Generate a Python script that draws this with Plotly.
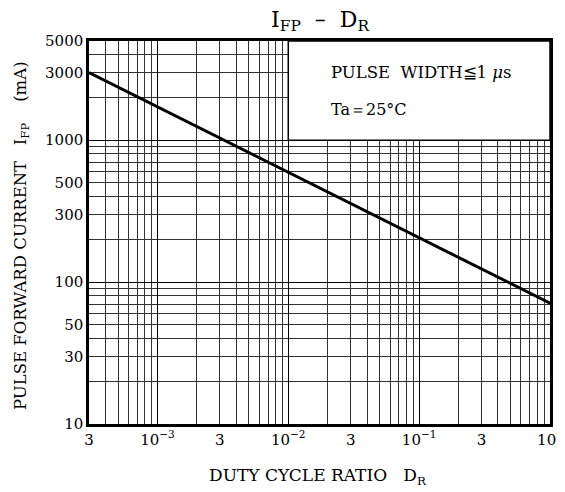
import plotly.graph_objects as go
import numpy as np

# Data
duty_ratio = [3e-4, 1.0]
ifp_ma = [3000, 71]

x_tickvals = [3e-4, 1e-3, 3e-3, 1e-2, 3e-2, 1e-1, 3e-1, 1.0]
x_ticktext = ["3", "10<sup>−3</sup>", "3", "10<sup>−2</sup>", "3", "10<sup>−1</sup>", "3", "10<sup>0</sup>"]
y_tickvals = [10, 30, 50, 100, 300, 500, 1000, 3000, 5000]
y_ticktext = ["10", "30", "50", "100", "300", "500", "1000", "3000", "5000"]

x_minor = [m * 10.0 ** e for e in range(-4, 1) for m in range(1, 10) if 3e-4 <= m * 10.0 ** e <= 1.0]
y_minor = [m * 10.0 ** e for e in range(1, 4) for m in range(1, 10) if 10 <= m * 10.0 ** e <= 5000]
x_decades = [1e-3, 1e-2, 1e-1]
y_decades = [100, 1000]

FONT = "DejaVu Serif"

# the page body adds an 8px margin; size the figure so the plot lands where the reference has it
OFF = 8
W, H = 565, 492
L, R, T, B = 81, 23, 33, 76

fig = go.Figure()
fig.add_trace(go.Scatter(x=duty_ratio, y=ifp_ma, mode="lines",
                         line=dict(color="black", width=3), showlegend=False,
                         hoverinfo="skip"))
# invisible trace for the overlay axes holding decade grid lines
fig.add_trace(go.Scatter(x=[3e-4], y=[10], xaxis="x2", yaxis="y2", mode="markers",
                         marker=dict(opacity=0), showlegend=False, hoverinfo="skip"))

xr = [np.log10(3e-4), 0]
yr = [1, np.log10(5000)]
pw, ph = W - L - R, H - T - B


def px_to_plot_x(px):
    return (px - OFF - L) / pw


def px_to_plot_y(py):
    return (T + ph - (py - OFF)) / ph


fig.update_layout(
    width=W, height=H,
    margin=dict(l=L, r=R, t=T, b=B, autoexpand=False),
    paper_bgcolor="white", plot_bgcolor="white",
    font=dict(family=FONT, color="black", size=15),
    title=dict(text="I<sub>FP</sub>  –  D<sub>R</sub>", x=(320 - OFF) / W, xanchor="center",
               y=1 - (19 - OFF) / H, yanchor="middle", font=dict(size=22, family=FONT)),
    xaxis=dict(type="log", range=xr, tickmode="array", tickvals=x_tickvals,
               ticktext=x_ticktext, showgrid=False, ticks="", zeroline=False,
               showline=True, linecolor="black", linewidth=2.5, mirror=True,
               tickfont=dict(size=15), automargin=False, ticklabeloverflow="allow",
               minor=dict(tickmode="array", tickvals=x_minor, showgrid=True,
                          gridcolor="#333333", gridwidth=1, ticks="")),
    yaxis=dict(type="log", range=yr, tickmode="array", tickvals=y_tickvals,
               ticktext=y_ticktext, showgrid=False, ticks="", zeroline=False,
               showline=True, linecolor="black", linewidth=2.5, mirror=True,
               tickfont=dict(size=15), automargin=False, ticklabeloverflow="allow",
               minor=dict(tickmode="array", tickvals=y_minor, showgrid=True,
                          gridcolor="#333333", gridwidth=1, ticks="")),
    xaxis2=dict(type="log", range=xr, overlaying="x", tickmode="array", tickvals=x_decades,
                showticklabels=False, showgrid=True, gridcolor="black", gridwidth=1.3,
                ticks="", zeroline=False, showline=False, automargin=False),
    yaxis2=dict(type="log", range=yr, overlaying="y", tickmode="array", tickvals=y_decades,
                showticklabels=False, showgrid=True, gridcolor="black", gridwidth=1.3,
                ticks="", zeroline=False, showline=False, automargin=False),
)

# axis titles
fig.add_annotation(xref="paper", yref="paper", x=px_to_plot_x(318), y=px_to_plot_y(477),
                   text="DUTY CYCLE RATIO   D<sub>R</sub>", showarrow=False,
                   xanchor="center", yanchor="middle", font=dict(size=17, family=FONT))
fig.add_annotation(xref="paper", yref="paper", x=px_to_plot_x(21), y=px_to_plot_y(236),
                   text="PULSE FORWARD CURRENT   I<sub>FP</sub>    (mA)", showarrow=False,
                   textangle=-90, xanchor="center", yanchor="middle",
                   font=dict(size=16.5, family=FONT))

# white condition box in upper-right
fig.add_shape(type="rect", xref="x", yref="y", x0=1e-2, x1=1.0, y0=1000, y1=5000,
              fillcolor="white", line=dict(color="black", width=1.5), layer="above")

fig.add_annotation(xref="x", yref="y", x=np.log10(0.0203), y=np.log10(3000),
                   text="PULSE  WIDTH≦1 <i>μ</i>s", showarrow=False, xanchor="left",
                   yanchor="middle", font=dict(size=16.5, family=FONT))
fig.add_annotation(xref="x", yref="y", x=np.log10(0.0203), y=np.log10(1650),
                   text="Ta＝25°C", showarrow=False, xanchor="left",
                   yanchor="middle", font=dict(size=16, family=FONT))

fig.write_html("out.html")
